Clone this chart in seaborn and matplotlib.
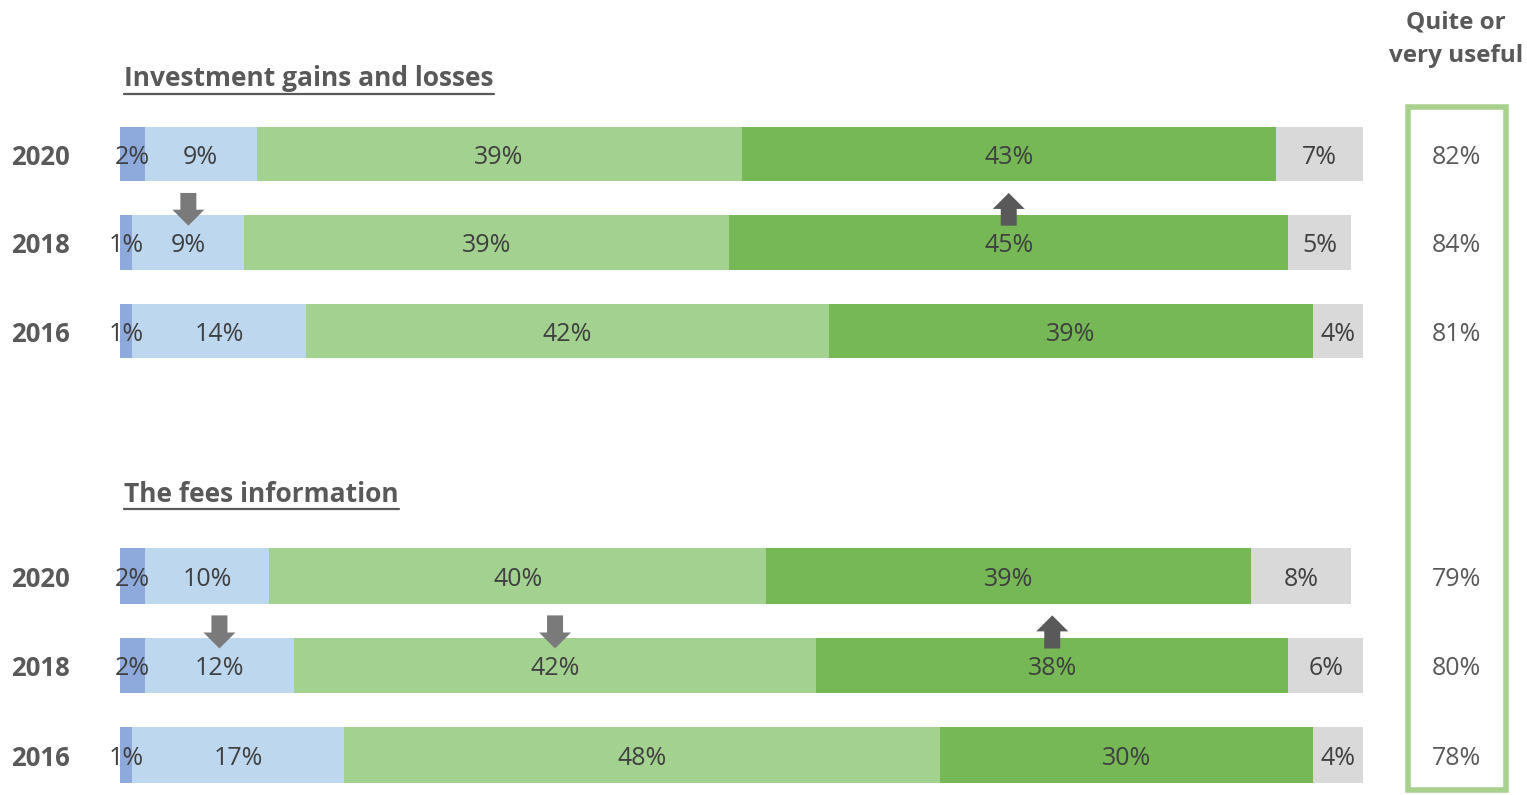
import matplotlib
matplotlib.use("Agg")
import matplotlib.pyplot as plt
from matplotlib.patches import Rectangle
from matplotlib.lines import Line2D
import numpy as np
import seaborn as sns

# ---- data -------------------------------------------------------------
years = ["2020", "2018", "2016"]
segments = ["Not at all useful", "Not very useful", "Quite useful", "Very useful", "Don't know"]

gains_not_at_all = [2, 1, 1]
gains_not_very = [9, 9, 14]
gains_quite = [39, 39, 42]
gains_very = [43, 45, 39]
gains_dont_know = [7, 5, 4]
gains_useful_total = [82, 84, 81]
# (year, segment index, direction) of significant changes since the previous wave
gains_changes = [("2018", 1, "down"), ("2018", 3, "up")]

fees_not_at_all = [2, 2, 1]
fees_not_very = [10, 12, 17]
fees_quite = [40, 42, 48]
fees_very = [39, 38, 30]
fees_dont_know = [8, 6, 4]
fees_useful_total = [79, 80, 78]
fees_changes = [("2018", 1, "down"), ("2018", 2, "down"), ("2018", 3, "up")]

group_titles = ["Investment gains and losses", "The fees information"]
useful_title = ["Quite or", "very useful"]

# ---- style ------------------------------------------------------------
segment_colors = ["#8EA9DB", "#BDD7EE", "#A3D18F", "#75B855", "#D9D9D9"]
LABEL_COLOR = "#404040"
TITLE_COLOR = "#595959"
BOX_COLOR = "#A9D18E"
BAR_H = 0.62
TXT_DY = 0.035   # nudge so digits sit visually centred on the bar

sns.set_style("white")
plt.rcParams["font.family"] = ["Open Sans", "DejaVu Sans"]

W, H = 1527, 795
fig = plt.figure(figsize=(W / 100, H / 100), dpi=100)

PX_PER_UNIT = 1243 / 100.0


def fx(px):
    return px / W


def fy(py):
    return 1 - py / H


def draw_group(ax, parts, useful, changes, row_px):
    values = np.array(parts)
    cum = np.cumsum(values, axis=0)
    # stacked bars: draw cumulative totals from the outermost segment inwards
    for k in reversed(range(len(parts))):
        sns.barplot(x=cum[k], y=years, order=years, orient="y",
                    color=segment_colors[k], saturation=1, width=BAR_H,
                    errorbar=None, linewidth=0, ax=ax)
    for i, yr in enumerate(years):
        for k in range(len(parts)):
            v = values[k][i]
            ax.text(cum[k][i] - v / 2, i + TXT_DY, f"{v}%", ha="center", va="center",
                    fontsize=18, color=LABEL_COLOR, zorder=4)
        ax.text(-6.4, i + TXT_DY, yr, ha="center", va="center", fontsize=18.5,
                fontweight="bold", color=TITLE_COLOR, clip_on=False)
        ax.text(107.5, i + TXT_DY, f"{useful[i]}%", ha="center", va="center",
                fontsize=18, color=TITLE_COLOR, clip_on=False)
    # change arrows sit in the gap above the marked row
    shaft = 16 / PX_PER_UNIT
    head = 32 / PX_PER_UNIT
    head_len = 16 / row_px
    for yr, k, direction in changes:
        i = years.index(yr)
        x = cum[k][i] - values[k][i] / 2
        top, bottom = i - 0.56, i - 0.19
        if direction == "down":
            ax.arrow(x, top, 0, bottom - top, width=shaft, head_width=head,
                     head_length=head_len, length_includes_head=True,
                     color="#7A7A7A", linewidth=0, zorder=5, clip_on=False)
        else:
            ax.arrow(x, bottom, 0, top - bottom, width=shaft, head_width=head,
                     head_length=head_len, length_includes_head=True,
                     color="#595959", linewidth=0, zorder=5, clip_on=False)
    ax.set_xlim(0, 100)
    ax.set_ylim(len(years) - 0.5, -0.5)
    ax.set_axis_off()


# axes: one per question, rows spaced ~89 px apart
ax1 = fig.add_axes([fx(120), fy(375.25), fx(1243), 265.5 / H])
draw_group(ax1, [gains_not_at_all, gains_not_very, gains_quite, gains_very, gains_dont_know],
           gains_useful_total, gains_changes, 88.5)

ax2 = fig.add_axes([fx(120), fy(799.75), fx(1243), 268.5 / H])
draw_group(ax2, [fees_not_at_all, fees_not_very, fees_quite, fees_very, fees_dont_know],
           fees_useful_total, fees_changes, 89.5)

# group titles with underline
title_texts = []
for title, ypx in zip(group_titles, [79, 494]):
    t = fig.text(fx(124), fy(ypx), title, ha="left", va="center", fontsize=19,
                 fontweight="bold", color=TITLE_COLOR)
    title_texts.append((t, ypx))

fig.canvas.draw()
renderer = fig.canvas.get_renderer()
for t, ypx in title_texts:
    bb = t.get_window_extent(renderer)
    fig.add_artist(Line2D([bb.x0 / W, bb.x1 / W], [fy(ypx + 15)] * 2,
                          transform=fig.transFigure, color=TITLE_COLOR, lw=1.6))

# "useful" column header and frame
fig.text(fx(1456), fy(22), useful_title[0], ha="center", va="center",
         fontsize=17.5, fontweight="bold", color=TITLE_COLOR)
fig.text(fx(1456), fy(56), useful_title[1], ha="center", va="center",
         fontsize=17.5, fontweight="bold", color=TITLE_COLOR)
fig.add_artist(Rectangle((fx(1408), fy(790)), fx(97.5), (790 - 107) / H,
                         transform=fig.transFigure, fill=False,
                         edgecolor=BOX_COLOR, linewidth=4))

fig.savefig("out.png", dpi=100, facecolor="white")
